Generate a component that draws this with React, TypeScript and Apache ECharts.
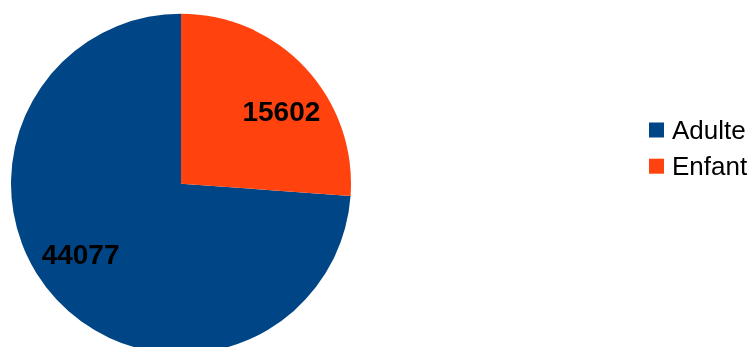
import React, { useEffect, useRef } from "react";
import * as echarts from "echarts";

const categories = ["Adulte", "Enfant"];
const values = [44077, 15602];
const colors = ["#004586", "#ff420e"];

const CX = 181;
const CY = 183.7;
const R = 170;

export default function App() {
  const ref = useRef<HTMLDivElement>(null);
  useEffect(() => {
    if (!ref.current) return;
    const chart = echarts.init(ref.current, undefined, { renderer: "svg" });
    const total = values.reduce((a, b) => a + b, 0);
    const mids: number[] = [];
    let acc = 0;
    values.forEach((v) => {
      const span = (v / total) * 360;
      mids.push(360 - (acc + span / 2));
      acc += span;
    });
    chart.setOption({
      animation: false,
      legend: {
        orient: "vertical",
        left: 649,
        top: 117,
        padding: 0,
        itemWidth: 15,
        itemHeight: 15,
        itemGap: 10.2,
        icon: "rect",
        data: categories,
        textStyle: {
          fontFamily: "Liberation Sans",
          fontSize: 26,
          lineHeight: 26,
          color: "#000",
          padding: [0, 0, 0, 3],
        },
      },
      series: [
        {
          type: "pie",
          center: [CX, CY],
          radius: [0, R],
          startAngle: 90,
          clockwise: false,
          data: categories.map((c, i) => ({
            name: c,
            value: values[i],
            itemStyle: { color: colors[i] },
          })),
          label: {
            show: true,
            position: "inside",
            formatter: "{c}",
            fontFamily: "Liberation Sans",
            fontWeight: "bold",
            fontSize: 28,
            color: "#000",
          },
          labelLayout: (params: any) => {
            const a = ((mids[params.dataIndex] + 7.5) * Math.PI) / 180;
            const d = R * 0.725;
            return {
              x: CX + d * Math.sin(a),
              y: CY - d * Math.cos(a) - 0.5,
              align: "center",
              verticalAlign: "middle",
            };
          },
          labelLine: { show: false },
          emphasis: { disabled: true },
        },
      ],
    });
    return () => chart.dispose();
  }, []);
  return (
    <div
      ref={ref}
      style={{ position: "fixed", left: 0, top: 0, width: 752, height: 347 }}
    />
  );
}
